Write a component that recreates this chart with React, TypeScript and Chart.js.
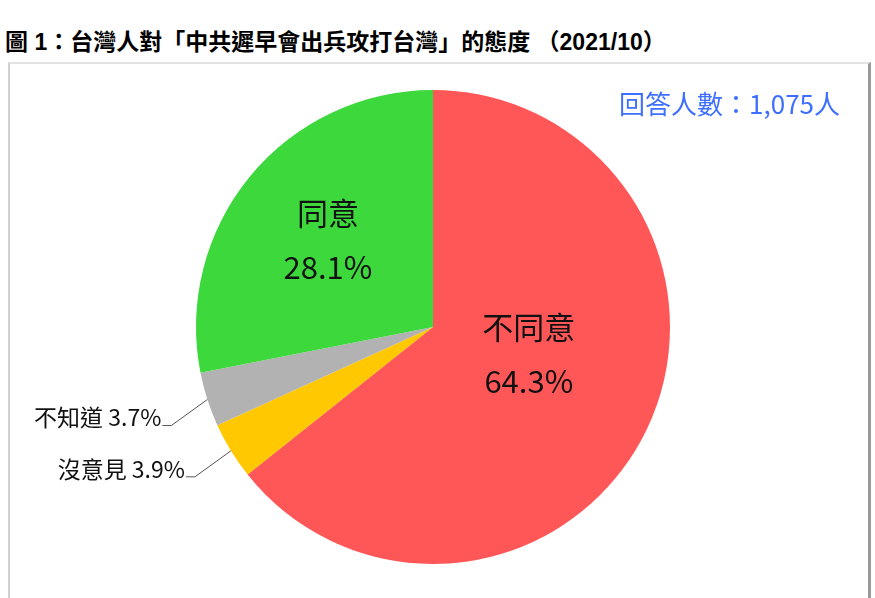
import React, { useEffect, useRef } from "react";
import { Chart, registerables } from "chart.js";

Chart.register(...registerables);

const categories = ["不同意", "沒意見", "不知道", "同意"];
const values = [64.3, 3.9, 3.7, 28.1];
const sliceColors = ["#FF5757", "#FFC800", "#B2B2B2", "#3CD83C"];
const titleText = "圖 1：台灣人對「中共遲早會出兵攻打台灣」的態度 （2021/10）";
const countText = "回答人數：1,075人";

// label placement style: inside (radius fraction, angle shift in degrees) or outside
const labelModes = ["inside", "outside", "outside", "inside"];
const insideRadius = [0.42, 0, 0, 0.574];
const insideAngleShift = [-10, 0, 0, 0];

const CJK = '"Noto Sans CJK TC", "Noto Sans", sans-serif';

const labelPlugin = {
  id: "sliceLabels",
  afterDatasetsDraw(chart: any) {
    const ctx = chart.ctx;
    const meta = chart.getDatasetMeta(0);
    meta.data.forEach((arc: any, i: number) => {
      const { x, y, startAngle, endAngle, outerRadius } = arc.getProps(
        ["x", "y", "startAngle", "endAngle", "outerRadius"],
        true
      );
      const mid = (startAngle + endAngle) / 2;
      const val = values[i].toFixed(1) + "%";
      ctx.save();
      ctx.fillStyle = "#111";
      if (labelModes[i] === "inside") {
        const a = mid + (insideAngleShift[i] * Math.PI) / 180;
        const r = outerRadius * insideRadius[i];
        const lx = x + Math.cos(a) * r;
        const ly = y + Math.sin(a) * r;
        ctx.font = `31px ${CJK}`;
        ctx.textAlign = "center";
        ctx.textBaseline = "middle";
        ctx.fillText(categories[i], lx, ly - 27);
        ctx.fillText(val, lx, ly + 27);
      } else {
        const ex = x + Math.cos(mid) * outerRadius;
        const ey = y + Math.sin(mid) * outerRadius;
        const bx = ex - 36;
        const by = ey + 26;
        const tx = bx - 9;
        ctx.strokeStyle = "#555";
        ctx.lineWidth = 1;
        ctx.beginPath();
        ctx.moveTo(ex, ey);
        ctx.lineTo(bx, by);
        ctx.lineTo(tx, by);
        ctx.stroke();
        ctx.font = `23px ${CJK}`;
        ctx.textAlign = "right";
        ctx.textBaseline = "middle";
        ctx.fillText(categories[i] + " " + val, tx - 1, by - 8);
      }
      ctx.restore();
    });
  },
};

export default function App() {
  const ref = useRef<HTMLCanvasElement>(null);
  useEffect(() => {
    if (!ref.current) return;
    const chart = new Chart(ref.current, {
      type: "pie",
      data: {
        labels: categories,
        datasets: [
          {
            data: values,
            backgroundColor: sliceColors,
            borderColor: "#ffffff",
            borderWidth: 0,
          },
        ],
      },
      options: {
        responsive: false,
        animation: false,
        layout: { padding: { top: 90, bottom: 34, left: 196, right: 205 } },
        plugins: {
          legend: { display: false },
          tooltip: { enabled: false },
          title: { display: false },
        },
      },
      plugins: [labelPlugin],
    });
    return () => chart.destroy();
  }, []);

  return (
    <div
      style={{
        position: "fixed",
        left: 0,
        top: 0,
        width: 875,
        height: 598,
        background: "#fff",
        overflow: "hidden",
      }}
    >
      <div
        style={{
          position: "absolute",
          left: 5,
          top: 27,
          fontFamily: '"Liberation Sans", "Noto Sans CJK TC", sans-serif',
          fontWeight: "bold",
          fontSize: 23,
          color: "#000",
          whiteSpace: "nowrap",
          lineHeight: "30px",
        }}
      >
        {titleText}
      </div>
      <div
        style={{
          position: "absolute",
          left: 8,
          top: 62,
          width: 858,
          height: 560,
          borderTop: "2px solid #e2e2e2",
          borderLeft: "2px solid #d0d0d0",
          borderRight: "3px solid #9a9a9a",
        }}
      />
      <canvas
        ref={ref}
        width={875}
        height={598}
        style={{ position: "absolute", left: 0, top: 0 }}
      />
      <div
        style={{
          position: "absolute",
          right: 35,
          top: 87,
          fontFamily: CJK,
          fontSize: 26,
          color: "#3F6FFF",
          whiteSpace: "nowrap",
          lineHeight: "32px",
        }}
      >
        {countText}
      </div>
    </div>
  );
}
